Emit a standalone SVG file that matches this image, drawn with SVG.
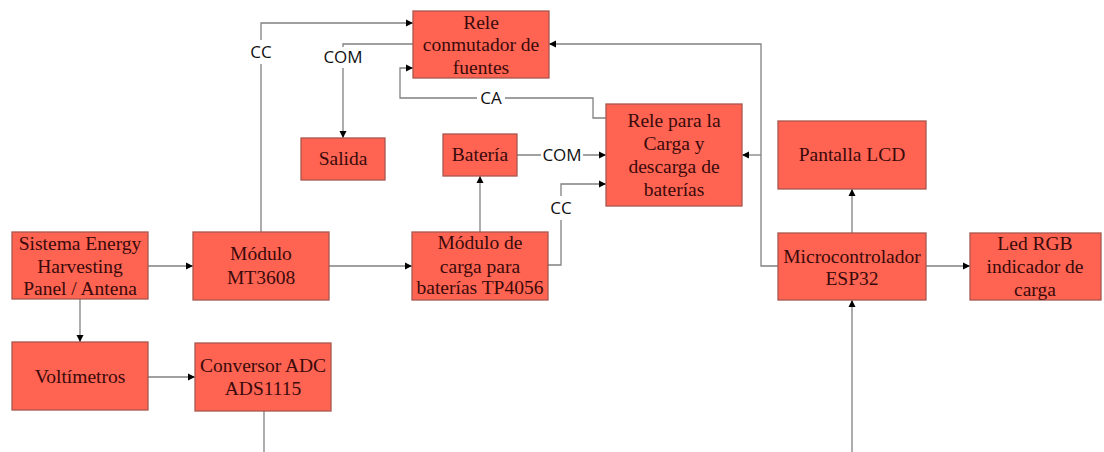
<svg xmlns="http://www.w3.org/2000/svg" width="1104" height="452" viewBox="0 0 1104 452">
<defs>
<marker id="arr" markerWidth="8" markerHeight="8" refX="7" refY="4" orient="auto" markerUnits="userSpaceOnUse">
<path d="M0,0.5 L7,4 L0,7.5 Z" fill="#000"/>
</marker>
<style>
.box{fill:#FF6352;stroke:#A8574D;stroke-width:1.3}
.t{font-family:"Liberation Serif","Times New Roman",serif;font-size:19.5px;fill:#3A0A0A;text-anchor:middle}
.c{fill:none;stroke:#808080;stroke-width:1.3}
.ca{fill:none;stroke:#808080;stroke-width:1.3;marker-end:url(#arr)}
.lb{font-family:"Open Sans","Noto Sans",sans-serif;font-size:17px;fill:#111;text-anchor:middle}
.bg{fill:#fff}
</style>
</defs>
<rect width="1104" height="452" fill="#fff"/>

<g id="connectors">
<path class="ca" d="M261,232 V23 H413"/>
<path class="ca" d="M413,44 H343 V138"/>
<path class="ca" d="M606,118 H593 V98 H400 V68 H413"/>
<path class="ca" d="M517,155 H606"/>
<path class="ca" d="M548,265 H561 V184 H606"/>
<path class="ca" d="M480,232 V176"/>
<path class="ca" d="M778,266 H761 V44 H549"/>
<path class="ca" d="M761,155 H742"/>
<path class="ca" d="M852,233 V189"/>
<path class="ca" d="M926,266 H970"/>
<path class="ca" d="M852,452 V300"/>
<path class="ca" d="M148,266 H193"/>
<path class="ca" d="M329,266 H412"/>
<path class="ca" d="M80,299 V342"/>
<path class="ca" d="M148,377 H195"/>
<path class="c" d="M264,411 V452"/>
<rect class="bg" x="246" y="40" width="30" height="24"/>
<text class="lb" x="261" y="58">CC</text>
<rect class="bg" x="321" y="47" width="44" height="21"/>
<text class="lb" x="343" y="63">COM</text>
<rect class="bg" x="477" y="90" width="28" height="18"/>
<text class="lb" x="491" y="104">CA</text>
<rect class="bg" x="541" y="147" width="42" height="17"/>
<text class="lb" x="562" y="161">COM</text>
<rect class="bg" x="546" y="196" width="30" height="24"/>
<text class="lb" x="561" y="214">CC</text>
</g>

<g id="n-rele-conmutador">
<rect class="box" x="413" y="11" width="136" height="67"/>
<text class="t" x="481" y="29">Rele</text>
<text class="t" x="481" y="51">conmutador de</text>
<text class="t" x="481" y="74">fuentes</text>
</g>
<g id="n-salida">
<rect class="box" x="301" y="138" width="84" height="42"/>
<text class="t" x="343" y="165">Salida</text>
</g>
<g id="n-bateria">
<rect class="box" x="443" y="134" width="74" height="42"/>
<text class="t" x="480" y="161">Batería</text>
</g>
<g id="n-rele-carga">
<rect class="box" x="606" y="104" width="136" height="102"/>
<text class="t" x="674" y="127">Rele para la</text>
<text class="t" x="674" y="150">Carga y</text>
<text class="t" x="674" y="173">descarga de</text>
<text class="t" x="674" y="196">baterías</text>
</g>
<g id="n-lcd">
<rect class="box" x="778" y="121" width="148" height="68"/>
<text class="t" x="852" y="161">Pantalla LCD</text>
</g>
<g id="n-esp32">
<rect class="box" x="778" y="233" width="148" height="67"/>
<text class="t" x="852" y="263">Microcontrolador</text>
<text class="t" x="852" y="285">ESP32</text>
</g>
<g id="n-led">
<rect class="box" x="970" y="233" width="131" height="67"/>
<text class="t" x="1035" y="250">Led RGB</text>
<text class="t" x="1035" y="273">indicador de</text>
<text class="t" x="1035" y="296">carga</text>
</g>
<g id="n-energy">
<rect class="box" x="12" y="232" width="136" height="67"/>
<text class="t" x="80" y="250">Sistema Energy</text>
<text class="t" x="80" y="273">Harvesting</text>
<text class="t" x="80" y="295">Panel / Antena</text>
</g>
<g id="n-mt3608">
<rect class="box" x="193" y="232" width="136" height="68"/>
<text class="t" x="261" y="260">Módulo</text>
<text class="t" x="261" y="284">MT3608</text>
</g>
<g id="n-tp4056">
<rect class="box" x="412" y="232" width="136" height="68"/>
<text class="t" x="480" y="249">Módulo de</text>
<text class="t" x="480" y="273">carga para</text>
<text class="t" x="480" y="294">baterías TP4056</text>
</g>
<g id="n-voltimetros">
<rect class="box" x="12" y="342" width="136" height="68"/>
<text class="t" x="80" y="383">Voltímetros</text>
</g>
<g id="n-adc">
<rect class="box" x="195" y="343" width="136" height="68"/>
<text class="t" x="263" y="372">Conversor ADC</text>
<text class="t" x="263" y="395">ADS1115</text>
</g>
</svg>
